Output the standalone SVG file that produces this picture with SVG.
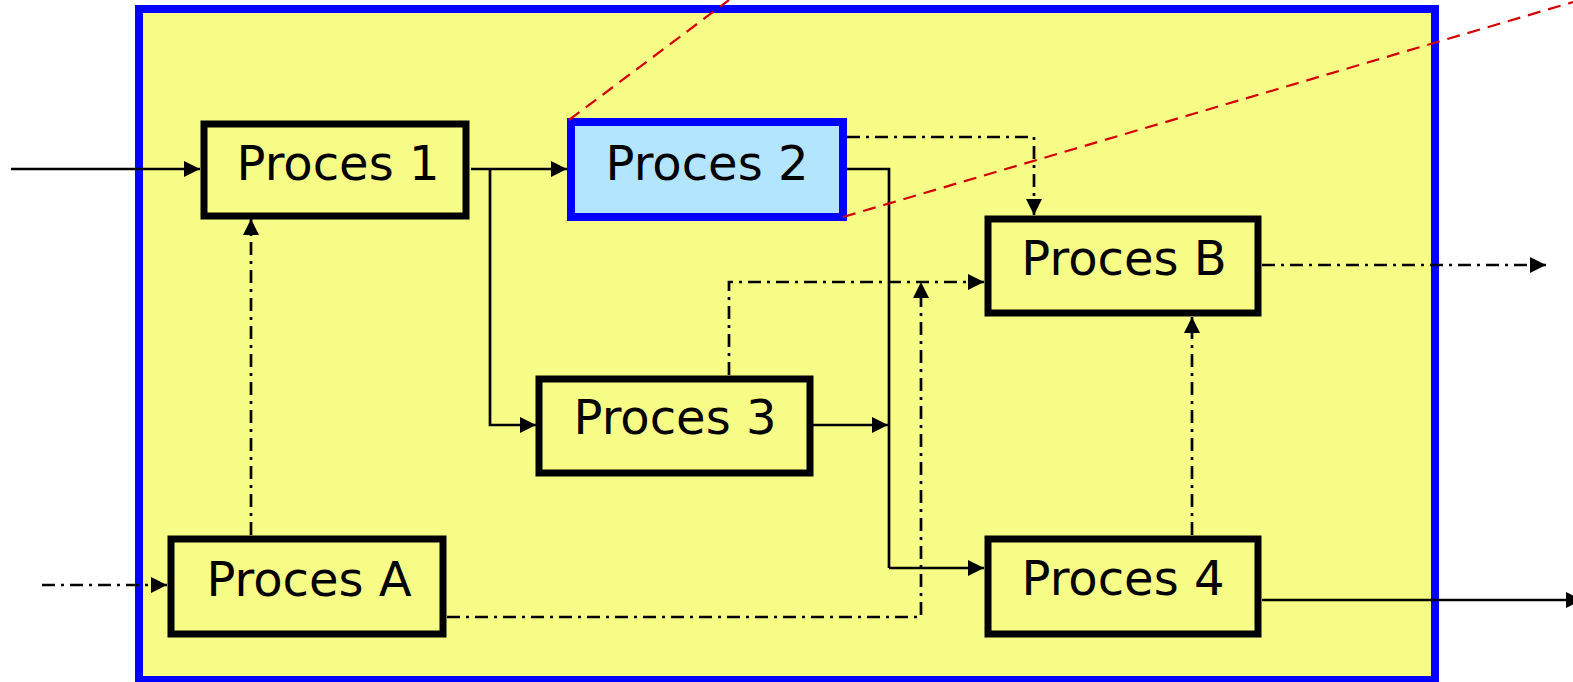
<svg xmlns="http://www.w3.org/2000/svg" width="1573" height="682" viewBox="0 0 1573 682">
<defs>
<marker id="arr" markerUnits="userSpaceOnUse" markerWidth="16" markerHeight="16" refX="16" refY="8" orient="auto">
<path d="M0,0 L16,8 L0,16 z" fill="#000"/>
</marker>
<style>
.box{fill:#F7FC87;stroke:#000;stroke-width:7}
.sel{fill:#B3E5FF;stroke:#0000FF;stroke-width:8}
.lbl{font-family:"DejaVu Sans","Verdana",sans-serif;font-size:48px;fill:#000;text-anchor:middle}
.solid{fill:none;stroke:#000;stroke-width:2.7;marker-end:url(#arr)}
.plain{fill:none;stroke:#000;stroke-width:2.7}
.dd{fill:none;stroke:#000;stroke-width:2.7;stroke-dasharray:13,6,3,6;marker-end:url(#arr)}
.red{fill:none;stroke:#D40000;stroke-width:2.2;stroke-dasharray:13,8}
</style>
</defs>
<rect id="container" x="139" y="9" width="1296" height="671" fill="#F7FC87" stroke="#0000FF" stroke-width="8"/>
<g id="connectors">
<path class="solid" d="M11,169 L200,169"/>
<path class="solid" d="M471,169 L567,169"/>
<path class="solid" d="M490,169 L490,425 L536,425"/>
<path class="plain" d="M847,169 L889,169 L889,568"/>
<path class="solid" d="M889,568 L984,568"/>
<path class="solid" d="M813,425 L888,425"/>
<path class="solid" d="M1262,600 L1582,600"/>
<path class="dd" d="M847,137 L1034,137 L1034,215"/>
<path class="dd" d="M729,375 L729,282 L984,282"/>
<path class="dd" d="M447,617 L921,617 L921,282"/>
<path class="dd" d="M251,535 L251,219"/>
<path class="dd" d="M42,585 L167,585"/>
<path class="dd" d="M1192,535 L1192,317"/>
<path class="dd" d="M1262,265 L1546,265"/>
</g>
<g id="proces1"><rect class="box" x="204" y="124" width="262" height="92"/><text class="lbl" x="338" y="180">Proces 1</text></g>
<g id="proces2"><rect class="sel" x="571" y="122" width="272" height="95"/><text class="lbl" x="707" y="180">Proces 2</text></g>
<g id="procesB"><rect class="box" x="988" y="219" width="270" height="94"/><text class="lbl" x="1124" y="275">Proces B</text></g>
<g id="proces3"><rect class="box" x="539" y="379" width="271" height="94"/><text class="lbl" x="675" y="434">Proces 3</text></g>
<g id="procesA"><rect class="box" x="171" y="539" width="272" height="95"/><text class="lbl" x="309" y="596">Proces A</text></g>
<g id="proces4"><rect class="box" x="988" y="539" width="270" height="95"/><text class="lbl" x="1123" y="595">Proces 4</text></g>
<g id="zoom-lines">
<path class="red" d="M569,120 L729,0"/>
<path class="red" d="M843,217 L1580,0"/>
</g>
</svg>
